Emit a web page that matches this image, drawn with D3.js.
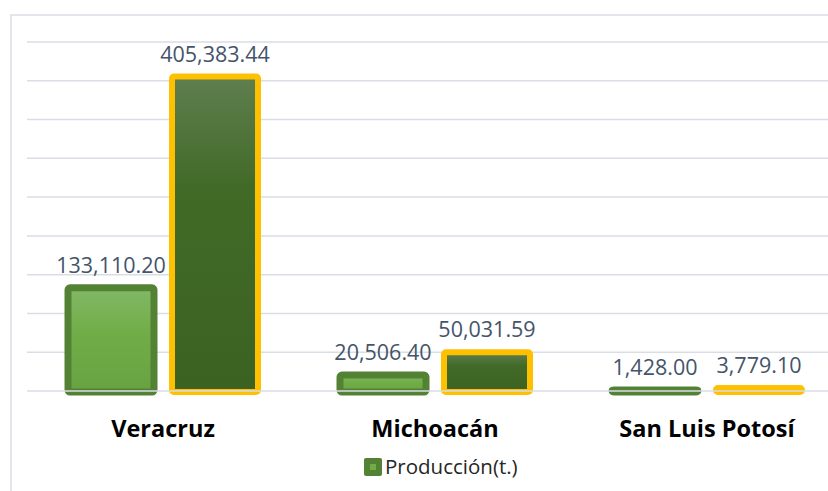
<!DOCTYPE html>
<html>
<head>
<meta charset="utf-8">
<script src="https://cdn.jsdelivr.net/npm/d3@7"></script>
<style>
  body { margin: 0; background: #fff; }
  svg { display: block; }
</style>
</head>
<body>
<div id="chart"></div>
<script>
// data
const categories = ["Veracruz", "Michoacán", "San Luis Potosí"];
const serieA = [133110.20, 20506.40, 1428.00];
const serieB = [405383.44, 50031.59, 3779.10];
const yTicks = [0, 50000, 100000, 150000, 200000, 250000, 300000, 350000, 400000, 450000];
const legendLabel = "Producción(t.)";

const W = 828, H = 491;
const svg = d3.select("#chart").append("svg")
    .attr("width", W).attr("height", H);

const defs = svg.append("defs");
const gA = defs.append("linearGradient").attr("id", "gA")
    .attr("x1", 0).attr("y1", 0).attr("x2", 0).attr("y2", 1);
gA.append("stop").attr("offset", "0%").attr("stop-color", "#82b866");
gA.append("stop").attr("offset", "45%").attr("stop-color", "#70ad47");
gA.append("stop").attr("offset", "100%").attr("stop-color", "#68a342");
const gB = defs.append("linearGradient").attr("id", "gB")
    .attr("x1", 0).attr("y1", 0).attr("x2", 0).attr("y2", 1);
gB.append("stop").attr("offset", "0%").attr("stop-color", "#5f7f4f");
gB.append("stop").attr("offset", "35%").attr("stop-color", "#416a27");
gB.append("stop").attr("offset", "100%").attr("stop-color", "#3c6221");

// chart area border (cropped on right/bottom)
svg.append("rect")
    .attr("x", 11).attr("y", 15).attr("width", 840).attr("height", 500)
    .attr("fill", "none").attr("stroke", "#d9dde5").attr("stroke-width", 1.5);

const x = d3.scaleBand()
    .domain(categories)
    .range([27, 843])
    .paddingInner(0)
    .paddingOuter(0);

const y = d3.scaleLinear()
    .domain([0, 450000])
    .range([391, 42]);

// gridlines
svg.append("g").selectAll("line")
  .data(yTicks.slice(1))
  .join("line")
    .attr("x1", 27).attr("x2", W)
    .attr("y1", d => y(d)).attr("y2", d => y(d))
    .attr("stroke", "#d9dde5").attr("stroke-width", 1.5);

const bw = 86, gap = 18;
const xa = c => x(c) + x.bandwidth() / 2 - gap / 2 - bw;
const xb = c => x(c) + x.bandwidth() / 2 + gap / 2;

const bars = svg.append("g");
bars.selectAll("rect.a")
  .data(categories)
  .join("rect")
    .attr("class", "a")
    .attr("x", d => xa(d))
    .attr("y", (d, i) => y(serieA[i]))
    .attr("width", bw)
    .attr("height", (d, i) => Math.max(0.5, y(0) - y(serieA[i]) + 1))
    .attr("rx", 2)
    .attr("fill", "url(#gA)")
    .attr("stroke", "#548235").attr("stroke-width", 7);

bars.selectAll("rect.b")
  .data(categories)
  .join("rect")
    .attr("class", "b")
    .attr("x", d => xb(d))
    .attr("y", (d, i) => y(serieB[i]))
    .attr("width", bw)
    .attr("height", (d, i) => Math.max(0.5, y(0) - y(serieB[i]) + 1))
    .attr("rx", 2)
    .attr("fill", "url(#gB)")
    .attr("stroke", "#ffc000").attr("stroke-width", 6);

// baseline over bars
svg.append("line")
    .attr("x1", 27).attr("x2", W)
    .attr("y1", y(0)).attr("y2", y(0))
    .attr("stroke", "#d9dde5").attr("stroke-width", 1.5);

const fmt = d3.format(",.2f");
const labels = svg.append("g")
    .attr("font-family", "'Open Sans', 'Liberation Sans', sans-serif")
    .attr("font-size", 21.5)
    .attr("fill", "#44546a")
    .attr("text-anchor", "middle");
labels.selectAll("text.a")
  .data(categories)
  .join("text")
    .attr("x", d => xa(d) + bw / 2)
    .attr("y", (d, i) => y(serieA[i]) - 15)
    .text((d, i) => fmt(serieA[i]));
labels.selectAll("text.b")
  .data(categories)
  .join("text")
    .attr("x", d => xb(d) + bw / 2)
    .attr("y", (d, i) => y(serieB[i]) - 15)
    .text((d, i) => fmt(serieB[i]));

// category axis labels
svg.append("g").selectAll("text")
  .data(categories)
  .join("text")
    .attr("x", d => x(d) + x.bandwidth() / 2)
    .attr("y", 437)
    .attr("text-anchor", "middle")
    .attr("font-family", "'Open Sans', 'Liberation Sans', sans-serif")
    .attr("font-weight", "bold")
    .attr("font-size", 23.5)
    .attr("fill", "#000")
    .text(d => d);

// legend
const leg = svg.append("g").attr("transform", "translate(364,458)");
leg.append("rect")
    .attr("x", 0).attr("y", 0).attr("width", 18).attr("height", 18)
    .attr("rx", 2).attr("fill", "#548235");
leg.append("rect")
    .attr("x", 6).attr("y", 6).attr("width", 6).attr("height", 6)
    .attr("fill", "#70ad47");
leg.append("text")
    .attr("x", 21).attr("y", 16)
    .attr("font-family", "'Open Sans', 'Liberation Sans', sans-serif")
    .attr("font-size", 20.5)
    .attr("fill", "#262626")
    .text(legendLabel);
</script>
</body>
</html>
